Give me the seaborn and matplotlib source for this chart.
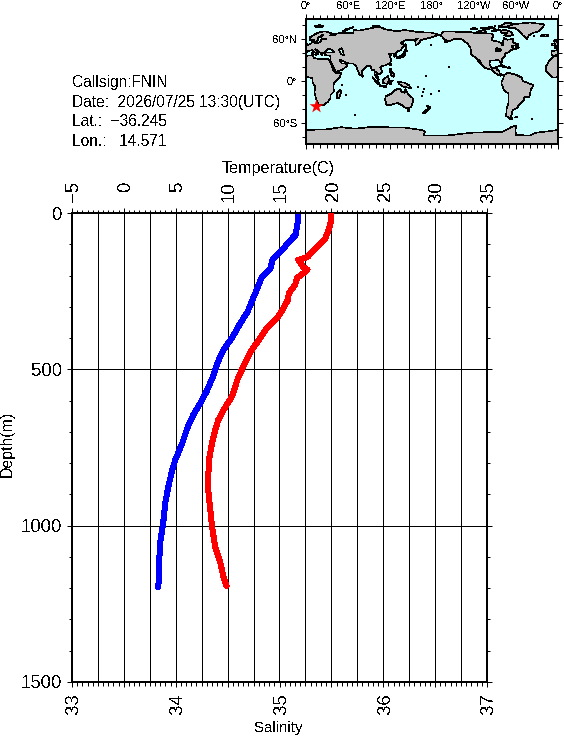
import numpy as np
import matplotlib
matplotlib.use("Agg")
import matplotlib.pyplot as plt
import seaborn as sns
from matplotlib.patches import Polygon
from matplotlib.transforms import ScaledTranslation

# ---- profile data ----
temp_depth = [0, 32, 70, 93, 118, 150, 176, 208, 240, 278, 317, 352, 397, 438, 480, 528, 572, 608, 646, 688, 736, 790, 822, 876, 927, 991, 1055, 1110, 1151, 1196]
temp_vals = [16.77, 16.74, 16.55, 15.87, 15.29, 14.32, 14.13, 13.26, 12.87, 12.39, 11.91, 11.23, 10.46, 9.59, 9.01, 8.53, 7.95, 7.37, 6.69, 6.11, 5.63, 4.95, 4.66, 4.28, 3.99, 3.79, 3.50, 3.41, 3.41, 3.31]
sal_depth = [0, 38, 83, 112, 141, 150, 173, 182, 208, 230, 256, 278, 310, 335, 367, 406, 445, 492, 528, 588, 630, 662, 694, 736, 790, 876, 940, 1004, 1068, 1119, 1164, 1193]
sal_vals = [35.50, 35.49, 35.44, 35.35, 35.27, 35.18, 35.23, 35.27, 35.17, 35.15, 35.09, 35.08, 35.03, 34.98, 34.88, 34.80, 34.72, 34.65, 34.60, 34.54, 34.46, 34.41, 34.38, 34.35, 34.32, 34.31, 34.33, 34.35, 34.38, 34.43, 34.46, 34.49]

temp_ticks = [-5, 0, 5, 10, 15, 20, 25, 30, 35]
temp_grid = [-5, -2.5, 0, 2.5, 5, 7.5, 10, 12.5, 15, 17.5, 20, 22.5, 25, 27.5, 30, 32.5, 35]
sal_ticks = [33, 33.5, 34, 34.5, 35, 35.5, 36, 36.5, 37]
sal_labels = ["33", "", "34", "", "35", "", "36", "", "37"]
depth_ticks = [0, 500, 1000, 1500]

info_lines = ["Callsign:FNIN", "Date:  2026/07/25 13:30(UTC)", "Lat.:  \u221236.245", "Lon.:   14.571"]
float_lon, float_lat = 14.571, -36.245

# ---- map data (longitude 0-360, latitude) ----
africa_e = [(0,36),(10,37),(11,33),(20,31),(25,32),(32,31),(34,28),(37,21),(39,15),(43,11),(51,12),(48,5),(40,-3),(39,-8),(40,-15),(35,-20),(35,-24),(32,-29),(26,-34),(18,-34),(15,-27),(12,-17),(13,-8),(9,-1),(9,4),(5,5),(0,5.7)]
africa_w = [(360,36),(355,36),(350.5,32),(347,28),(343,21),(343,14),(347,10),(352,5),(356,5),(360,5.7)]
eurasia = [(0,50),(4,52),(8,54),(9,57),(11,55),(14,54),(20,55),(22,59),(29,60),(23,60),(21,63),(25,65.5),(22,65.5),(17,61),(18,59),(13,55.5),(11,59),(6,58),(5,62),(13,67),(20,70),(28,71),(40,67),(34,65),(40,65),(44,68),(55,69),(68,69),(68,73),(75,72),(80,73),(90,75),(105,77.5),(113,74),(130,71),(140,73),(160,70),(180,69),(190,66),(180,62.5),(170,60),(163,58),(163,55),(157,51),(156,57),(160,61),(155,59),(143,59),(135,54),(141,52),(135,44),(130,42),(128,40),(129,36),(126,34.5),(126,37),(125,39.5),(121,39),(118,39),(122,37),(119,35),(122,31),(120,26),(114,22.5),(108,21.5),(106,19),(109,13),(105,9),(100,13),(104,1.5),(100,6),(98,9),(98,16),(94,16),(92,22),(87,21),(80,15),(80,10),(77,8),(73,17),(72,21),(67,25),(57,25.5),(56,27),(50,30),(48,30),(51,25),(56,25),(59,22),(52,16),(43,13),(39,21),(35,28),(35,36),(27,37),(26,40),(29,41),(41,41),(37,45),(31,46),(28,41.5),(23,40),(23,37),(19,42),(13,45.5),(18,40),(16,38),(9,44),(3,43),(0,39)]
iberia = [(360,50),(358,49),(355,48),(359,45.5),(358,43.5),(351,43),(351,37),(354,36),(358,37),(360,39)]
britain_w = [(354.5,58),(357,58.5),(358,56),(360,53.5),(360,51),(355,50),(356,52.5),(355,54)]
britain_e = [(0,53),(1.5,52.5),(0,51)]
ireland = [(350,52),(354,52),(354,55),(351,55)]
iceland = [(336,64),(338,66),(345,66.5),(346,64.5),(341,63.5)]
greenland = [(316,60),(310,65),(306,70),(298,76),(290,76),(287,78),(295,81),(320,83.5),(340,81),(338,76),(333,71),(325,69),(318,65)]
n_america = [(192,65.5),(197,71),(205,71),(220,70),(235,70),(245,68),(255,68),(265,68),(268,64),(265,61),(266,58),(272,57),(278,55),(280,51),(282,52),(281,56),(283,60),(282,62),(288,59),(296,60),(296,55),(304,52),(294,50),(295,47),(300,46),(293,44),(289,41),(284,39),(284,35),(279,31),(280,27),(279,25),(277,28),(275,30),(269,29.5),(263,29),(262,24),(265,18.5),(270,18),(272,21),(273,21),(272,16),(276,15),(277,10),(281,9),(283,8.5),(278,7.5),(274,9),(268,13),(265,16),(255,19),(250,25),(247,31),(250,24),(246,28),(243,33),(236,38),(235,48),(230,54),(222,60),(212,60),(207,58),(198,55),(202,58),(198,59),(195,63)]
s_america = [(283,8.5),(282,4),(280,0),(279,-3),(283,-13),(289,-18),(289.5,-30),(286.5,-40),(286,-50),(291,-53),(295,-55),(292,-52),(294,-47),(295,-42),(303,-38),(303,-35),(311,-28),(312,-23),(319,-23),(321,-13),(325,-6),(310,0),(308,5),(300,9),(292,11),(288,12)]
antarctica = [(0,-70),(30,-69),(50,-66),(70,-68),(90,-66),(110,-66),(140,-66.5),(165,-70),(170,-72),(168,-78),(200,-78),(210,-77),(235,-74),(260,-73),(280,-73),(295,-65),(301,-64),(299,-70),(300,-77),(320,-78),(328,-74),(345,-72),(360,-70),(360,-90),(0,-90)]
australia = [(114,-22),(113,-26),(115,-34),(118,-35),(124,-33),(131,-31.5),(138,-35),(141,-38),(147,-39),(150,-37),(153,-30),(153,-25),(146,-19),(142,-11),(141,-17),(136,-15),(136,-12),(131,-11),(126,-14),(122,-18)]
islands = [
    [(145,-41),(148,-41),(147.5,-43.5),(146,-43.5)],
    [(173,-35),(178,-38),(175,-41.5),(174,-39)],
    [(172,-41),(174,-42),(169,-46.5),(167,-46)],
    [(49,-12),(50,-16),(47,-25),(44,-25),(44,-17)],
    [(95,5.5),(104,-3),(106,-6),(101,-3)],
    [(106,-6),(114,-7),(114,-8.5),(106,-7.5)],
    [(109,1),(117,7),(119,1),(116,-4),(110,-3)],
    [(120,1),(125,1),(121,-1),(122,-5),(120,-5)],
    [(131,-1),(141,-2.5),(147,-6),(150,-10),(143,-9),(138,-8),(133,-4)],
    [(120,18),(122,18),(122,14),(126,9),(125,6),(122,7),(120,14)],
    [(130,32),(131,34),(136,36),(140,40),(141,41),(142,39),(140,35),(136,33.5)],
    [(140,42),(142,45),(145,43),(141,41.8)],
    [(142,54),(143,50),(143,46),(142,48)],
    [(120,23),(121.5,25),(121,22)],
    [(80,9),(82,7),(80.5,6)],
    [(12,78),(20,80),(25,78),(17,76.5)],
    [(52,71),(57,74),(68,77),(60,74),(55,70.5)],
    [(95,79),(105,79),(100,77.5)],
    [(278,72),(285,73),(293,70),(296,66),(290,64),(283,65),(287,69),(280,68)],
    [(243,70),(255,73),(258,69),(248,69)],
    [(275,77),(285,83),(300,82),(285,77)],
    [(235,74),(240,76),(245,74)],
    [(250,76),(265,77),(270,75),(255,74.5)],
    [(265,72),(275,74),(278,73),(268,71)],
    [(301,47),(304,47.5),(303,51),(299,49)],
    [(275,22),(280,23),(286,20),(282,20)],
    [(288,18),(289.5,20),(292,19),(291,18)],
    [(8,39),(9.7,39),(9.5,41),(8.3,41)],
    [(12.5,38),(15.5,38),(15,36.8)],
    [(298,-52),(301,-51.5),(302,-52.3)],
    [(291,-53.5),(295,-53),(294,-55),(291,-55)],
]
inland_water = [
    [(51,47),(47,45),(50,38),(54,37),(53,42)],
    [(272,47),(276,46),(279,44),(277,42),(274,45),(272,42),(271,46)],
]
small_isl_lon = [204, 178, 165, 160, 167, 323, 70, 179, 171, 190, 325, 57, 52, 168, 270, 280, 262, 275, 290]
small_isl_lat = [20, -18, -21, -9, -16, -54, -49, 51, 7, -14, 64, -20, -6, -12, 78, 79, 74, 79, 77]
map_lon_ticks = [0, 60, 120, 180, 240, 300, 360]
map_lon_labels = ["0\u00b0", "60\u00b0E", "120\u00b0E", "180\u00b0", "120\u00b0W", "60\u00b0W", "0\u00b0"]
map_lat_ticks = [-60, 0, 60]
map_lat_labels = ["60\u00b0S", "0\u00b0", "60\u00b0N"]

# ---- style ----
W, H = 564, 736
sns.set_theme(style="white")
plt.rcParams["font.family"] = ["Liberation Sans", "DejaVu Sans"]
plt.rcParams["text.antialiased"] = False
plt.rcParams["lines.antialiased"] = False
plt.rcParams["patch.antialiased"] = False
plt.rcParams["axes.unicode_minus"] = True
px = 0.72

def box(l, t, r, b):
    return [l / W, 1 - b / H, (r - l) / W, (b - t) / H]

fig = plt.figure(figsize=(W / 100, H / 100), dpi=100, facecolor="white")

# ---- profile axes ----
ax = fig.add_axes(box(72, 213, 487, 682))
ax_t = ax.twiny()
ax.set_xlim(33, 37)
ax_t.set_xlim(-5, 35)
ax.set_ylim(1500, 0)

for g in temp_grid:
    ax_t.axvline(g, color="black", lw=1 * px, zorder=1)
for d in depth_ticks[1:-1]:
    ax_t.axhline(d, color="black", lw=1 * px, zorder=1)

sns.lineplot(x=temp_vals, y=temp_depth, sort=False, estimator=None, ax=ax_t, color="#0000ff",
             lw=5 * px, zorder=3)
sns.lineplot(x=sal_vals, y=sal_depth, sort=False, estimator=None, ax=ax, color="#ff0000",
             lw=5 * px, zorder=3)
ax.set_zorder(ax_t.get_zorder() + 1)
ax.patch.set_visible(False)
ax_t.set_ylim(1500, 0)

for a in (ax, ax_t):
    for s in a.spines.values():
        s.set_linewidth(2 * px)
        s.set_color("black")
    a.set_xlabel("")
    a.set_ylabel("")

shift_x = ScaledTranslation(2 / 100, 0, fig.dpi_scale_trans)

ax_t.set_xticks(temp_ticks)
ax_t.set_xticks(np.arange(-5, 35.01, 0.5), minor=True)
ax_t.set_xticklabels([str(t).replace("-", "\u2212") for t in temp_ticks], rotation=90, fontsize=13.3)
ax_t.tick_params(axis="x", which="major", top=True, bottom=False, labeltop=True, labelbottom=False,
                 length=5 * px, width=1 * px, pad=19.5, color="black", labelcolor="black")
ax_t.tick_params(axis="x", which="minor", top=True, bottom=False, length=3.5 * px, width=1 * px, color="black")
for l in ax_t.get_xticklabels():
    l.set_va("top")
    l.set_transform(l.get_transform() + shift_x)
ax_t.tick_params(axis="y", which="both", left=False, right=False, labelleft=False, labelright=False)

ax.set_xticks(sal_ticks)
ax.set_xticklabels(sal_labels, rotation=90, fontsize=13.3)
ax.set_xticks(np.arange(33, 37.001, 0.05), minor=True)
ax.tick_params(axis="x", which="major", bottom=True, length=5 * px, width=1 * px, pad=4.5, color="black", labelcolor="black")
ax.tick_params(axis="x", which="minor", bottom=True, length=3.5 * px, width=1 * px, color="black")
for l in ax.get_xticklabels():
    l.set_transform(l.get_transform() + shift_x)
ax.set_yticks(depth_ticks)
ax.set_yticklabels([str(d) for d in depth_ticks], fontsize=13.3)
ax.set_yticks(np.arange(0, 1501, 100), minor=True)
ax.tick_params(axis="y", which="major", left=True, right=True, length=5 * px, width=1 * px, pad=3.5, color="black", labelcolor="black")
ax.tick_params(axis="y", which="minor", left=True, right=True, length=3 * px, width=1 * px, color="black")

fig.text(278 / W, 1 - 168 / H, "Temperature(C)", fontsize=11.6, ha="center", va="center", color="black")
fig.text(278.5 / W, 1 - 728 / H, "Salinity", fontsize=10.8, ha="center", va="center", color="black")
fig.text(7 / W, 1 - 444 / H, "Depth(m)", fontsize=11.4, ha="center", va="center", rotation=90, color="black")

for txt, y in zip(info_lines, [82, 102.5, 122, 142]):
    fig.text(72 / W, 1 - y / H, txt, fontsize=11.2, ha="left", va="center", color="black")

# ---- map ----
m = fig.add_axes(box(306, 19, 558, 144))
m.set_facecolor("#c8ffff")
m.set_xlim(0, 360)
m.set_ylim(-90, 88.6)
land = [africa_e, africa_w, eurasia, iberia, britain_w, britain_e, ireland, iceland, greenland,
        n_america, s_america, antarctica, australia] + islands
for poly in land:
    m.add_patch(Polygon(poly, closed=True, facecolor="#c0c0c0", edgecolor="black", lw=0.6 * px, zorder=2))
for poly in inland_water:
    m.add_patch(Polygon(poly, closed=True, facecolor="#c8ffff", edgecolor="black", lw=0.6 * px, zorder=2.5))
sns.scatterplot(x=small_isl_lon, y=small_isl_lat, ax=m, s=2, color="black", marker="s", linewidth=0, zorder=3)
sns.scatterplot(x=[float_lon], y=[float_lat], ax=m, s=110, color="#ff0000", marker="*", linewidth=0, zorder=4)
m.set_xlabel("")
m.set_ylabel("")
for s in m.spines.values():
    s.set_linewidth(2 * px)
    s.set_color("black")
m.set_xticks(map_lon_ticks)
m.set_xticklabels(map_lon_labels, fontsize=8)
m.set_xticks(np.arange(0, 361, 10), minor=True)
m.set_yticks(map_lat_ticks)
m.set_yticklabels(map_lat_labels, fontsize=8)
m.set_yticks(np.arange(-80, 81, 20), minor=True)
m.tick_params(axis="x", which="major", top=True, bottom=True, labeltop=True, labelbottom=False,
              length=5 * px, width=1 * px, pad=2, color="black", labelcolor="black")
m.tick_params(axis="x", which="minor", top=True, bottom=True, length=4 * px, width=1 * px, color="black")
m.tick_params(axis="y", which="major", left=True, right=True, length=5 * px, width=1 * px, pad=2.5, color="black", labelcolor="black")
m.tick_params(axis="y", which="minor", left=True, right=True, length=4 * px, width=1 * px, color="black")

fig.savefig("out.png", dpi=100, facecolor="white")
